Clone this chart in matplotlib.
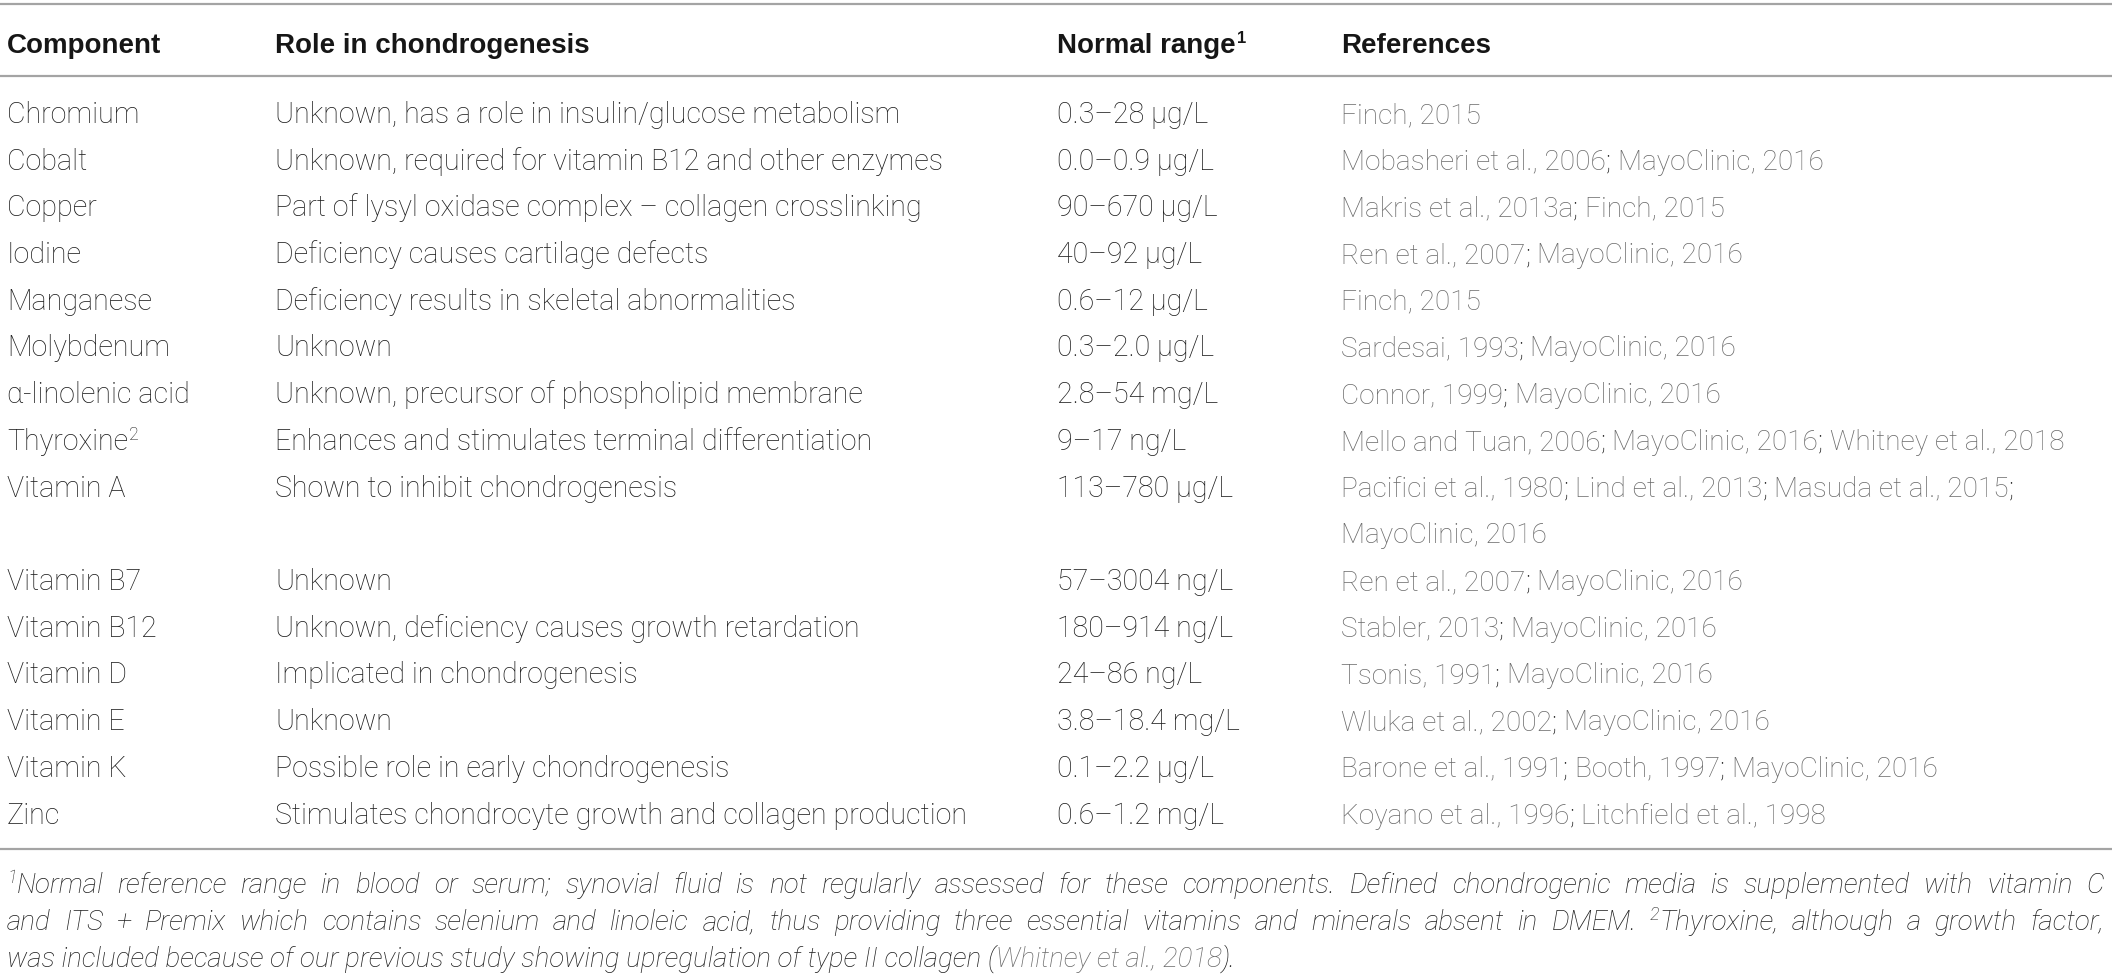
import matplotlib
matplotlib.use("Agg")
import matplotlib.pyplot as plt

# ---------------- data ----------------
headers = ["Component", "Role in chondrogenesis", "Normal range", "References"]
components = ["Chromium", "Cobalt", "Copper", "Iodine", "Manganese", "Molybdenum",
              "α-linolenic acid", "Thyroxine²", "Vitamin A", "Vitamin B7", "Vitamin B12",
              "Vitamin D", "Vitamin E", "Vitamin K", "Zinc"]
roles = ["Unknown, has a role in insulin/glucose metabolism",
         "Unknown, required for vitamin B12 and other enzymes",
         "Part of lysyl oxidase complex – collagen crosslinking",
         "Deficiency causes cartilage defects",
         "Deficiency results in skeletal abnormalities",
         "Unknown",
         "Unknown, precursor of phospholipid membrane",
         "Enhances and stimulates terminal differentiation",
         "Shown to inhibit chondrogenesis",
         "Unknown",
         "Unknown, deficiency causes growth retardation",
         "Implicated in chondrogenesis",
         "Unknown",
         "Possible role in early chondrogenesis",
         "Stimulates chondrocyte growth and collagen production"]
ranges = ["0.3–28 μg/L", "0.0–0.9 μg/L", "90–670 μg/L", "40–92 μg/L", "0.6–12 μg/L",
          "0.3–2.0 μg/L", "2.8–54 mg/L", "9–17 ng/L", "113–780 μg/L", "57–3004 ng/L",
          "180–914 ng/L", "24–86 ng/L", "3.8–18.4 mg/L", "0.1–2.2 μg/L", "0.6–1.2 mg/L"]
references = [
    ["Finch, 2015"],
    ["Mobasheri et al., 2006; MayoClinic, 2016"],
    ["Makris et al., 2013a; Finch, 2015"],
    ["Ren et al., 2007; MayoClinic, 2016"],
    ["Finch, 2015"],
    ["Sardesai, 1993; MayoClinic, 2016"],
    ["Connor, 1999; MayoClinic, 2016"],
    ["Mello and Tuan, 2006; MayoClinic, 2016; Whitney et al., 2018"],
    ["Pacifici et al., 1980; Lind et al., 2013; Masuda et al., 2015;", "MayoClinic, 2016"],
    ["Ren et al., 2007; MayoClinic, 2016"],
    ["Stabler, 2013; MayoClinic, 2016"],
    ["Tsonis, 1991; MayoClinic, 2016"],
    ["Wluka et al., 2002; MayoClinic, 2016"],
    ["Barone et al., 1991; Booth, 1997; MayoClinic, 2016"],
    ["Koyano et al., 1996; Litchfield et al., 1998"],
]
footnote_lines = [
    "Normal reference range in blood or serum; synovial fluid is not regularly assessed for these components. Defined chondrogenic media is supplemented with vitamin C",
    "and ITS + Premix which contains selenium and linoleic acid, thus providing three essential vitamins and minerals absent in DMEM. Thyroxine, although a growth factor,",
    "was included because of our previous study showing upregulation of type II collagen",
]
footnote_cite = "Whitney et al., 2018"

# ---------------- style / layout ----------------
W, H = 2118, 978
BODY = dict(family="Roboto", fontweight="light", fontsize=20.6)
REF = dict(family="Roboto", fontweight="light", fontsize=20.2)
HEAD = dict(family="Liberation Sans", fontweight="bold", fontsize=20.0)
FOOT = dict(family="Roboto", fontweight="light", fontstyle="italic", fontsize=20.0)
C_TEXT = "#1e1e1e"
C_HEAD = "#161616"
C_REF = "#6a6a6a"
C_LINE = "#a4a4a4"
col_x = [7, 275, 1057, 1341]
head_base = 53
row_base0 = 123
row_step = 46.7
foot_base = [893, 930, 967]
line_y = [5, 77, 850]
right_edge = 2112

fig = plt.figure(figsize=(W / 100, H / 100), dpi=100)
ax = fig.add_axes([0, 0, 1, 1])
ax.set_xlim(0, W)
ax.set_ylim(H, 0)
ax.axis("off")
renderer = fig.canvas.get_renderer()


def measure(s, props):
    t = ax.text(0, 0, s, **props)
    w = t.get_window_extent(renderer).width
    t.remove()
    return w


def draw_runs(x, y, runs):
    """runs: list of (text, color, props, raise_px)"""
    for s, c, props, rz in runs:
        if s.strip():
            ax.text(x, y - rz, s, color=c, va="baseline", ha="left", **props)
        if s == " ":
            x += measure("x x", props) - measure("xx", props)
        else:
            x += measure(s, props)
    return x


# rules
for yy in line_y:
    ax.hlines(yy, 0, right_edge, color=C_LINE, lw=1.6)

# header
sup_props = dict(HEAD, fontsize=12)
for i, h in enumerate(headers):
    xe = draw_runs(col_x[i], head_base, [(h, C_HEAD, HEAD, 0)])
    if i == 2:
        draw_runs(xe + 1, head_base, [("1", C_HEAD, sup_props, 10)])

# body rows
line_idx = 0
for comp, role, rng, refs in zip(components, roles, ranges, references):
    yb = row_base0 + row_step * line_idx
    if comp.endswith("²"):
        xe = draw_runs(col_x[0], yb, [(comp[:-1], C_TEXT, BODY, 0)])
        draw_runs(xe + 1, yb, [("2", C_TEXT, dict(BODY, fontsize=13), 10)])
    else:
        draw_runs(col_x[0], yb, [(comp, C_TEXT, BODY, 0)])
    draw_runs(col_x[1], yb, [(role, C_TEXT, BODY, 0)])
    draw_runs(col_x[2], yb, [(rng, C_TEXT, BODY, 0)])
    for k, refline in enumerate(refs):
        parts = refline.split(";")
        runs = []
        for j, p in enumerate(parts):
            p = p.strip()
            if not p:
                continue
            runs.append((p, C_REF, REF, 0))
            if j < len(parts) - 1:
                runs.append((";", C_TEXT, REF, 0))
                runs.append((" ", C_TEXT, REF, 0))
        draw_runs(col_x[3], yb + row_step * k, runs)
    line_idx += len(refs)

# footnotes
fsup = dict(FOOT, fontsize=13)


def justify(y, words, x0, x1):
    widths = [sum(measure(s, p) for s, c, p, r in wd) for wd in words]
    gap = (x1 - x0 - sum(widths)) / (len(words) - 1)
    x = x0
    for wd, w in zip(words, widths):
        draw_runs(x, y, wd)
        x += w + gap


w1 = footnote_lines[0].split(" ")
words1 = [[("1", C_TEXT, fsup, 10), (w1[0], C_TEXT, FOOT, 0)]] + [[(w, C_TEXT, FOOT, 0)] for w in w1[1:]]
justify(foot_base[0], words1, col_x[0], 2104)
w2 = footnote_lines[1].split(" ")
words2 = []
for w in w2:
    if w.startswith("Thyroxine"):
        words2.append([("2", C_TEXT, fsup, 10), (w, C_TEXT, FOOT, 0)])
    else:
        words2.append([(w, C_TEXT, FOOT, 0)])
justify(foot_base[1], words2, col_x[0], 2104)
draw_runs(col_x[0], foot_base[2], [(footnote_lines[2], C_TEXT, FOOT, 0), (" ", C_TEXT, FOOT, 0),
                                   ("(", C_TEXT, FOOT, 0), (footnote_cite, C_REF, FOOT, 0),
                                   (").", C_TEXT, FOOT, 0)])

fig.savefig("out.png", dpi=100, facecolor="white")
